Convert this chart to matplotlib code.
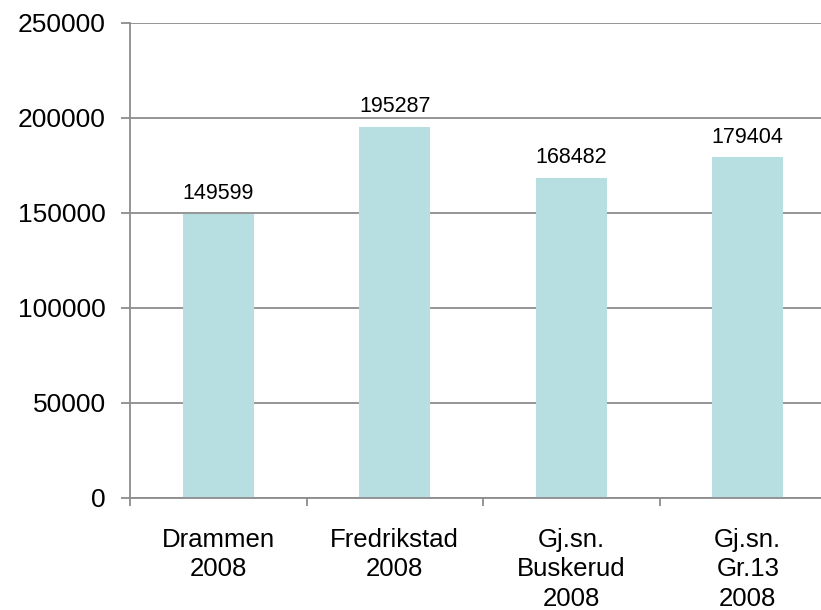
import matplotlib.pyplot as plt

plt.rcParams['font.family'] = ['Liberation Sans', 'DejaVu Sans']

categories = ['Drammen\n2008', 'Fredrikstad\n2008', 'Gj.sn.\nBuskerud\n2008', 'Gj.sn.\nGr.13\n2008']
values = [149599, 195287, 168482, 179404]
yticks = [0, 50000, 100000, 150000, 200000, 250000]

fig = plt.figure(figsize=(8.21, 6.10), dpi=100)
ax = fig.add_axes([130 / 821, 1 - 497.5 / 610, 691 / 821, 474.5 / 610])

x = list(range(len(categories)))
bars = ax.bar(x, values, width=0.40, color='#b7dfe1', zorder=2)
for b, v in zip(bars, values):
    ax.text(b.get_x() + b.get_width() / 2, v + 5000, str(v),
            ha='center', va='bottom', fontsize=15.5)

ax.set_ylim(0, 250000)
ax.set_xlim(-0.5, 3.415)
ax.set_yticks(yticks)
ax.set_yticklabels([str(t) for t in yticks], fontsize=19)
ax.yaxis.grid(True, color='#8c8c8c', linewidth=1.3, zorder=0)
ax.set_axisbelow(True)

ax.set_xticks(x)
ax.set_xticklabels(categories, fontsize=18.5, linespacing=1.28, va='top')
ax.set_xticks([i - 0.5 for i in x], minor=True)
ax.tick_params(axis='x', which='major', length=0, pad=22)
ax.tick_params(axis='x', which='minor', length=6, width=1.3, color='#8c8c8c')
ax.tick_params(axis='y', length=6.5, width=1.3, color='#8c8c8c', pad=11)

for s in ['top', 'right']:
    ax.spines[s].set_visible(False)
for s in ['left', 'bottom']:
    ax.spines[s].set_color('#8c8c8c')
    ax.spines[s].set_linewidth(1.3)
ax.spines['bottom'].set_zorder(3)

fig.savefig('out.png', dpi=100)
